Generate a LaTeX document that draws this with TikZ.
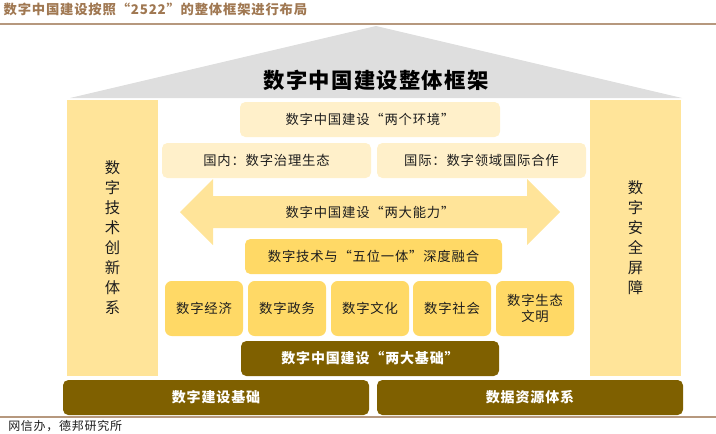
\documentclass[tikz,border=0pt]{standalone}
\usepackage{fontspec}
\setmainfont{Noto Sans CJK SC}[LetterSpace=6]
\usetikzlibrary{positioning}
\definecolor{CROOF}{RGB}{222,222,222}
\definecolor{CCOL}{RGB}{255,228,153}
\definecolor{CPALE}{RGB}{255,240,202}
\definecolor{CMID}{RGB}{255,217,102}
\definecolor{CDARK}{RGB}{127,96,0}
\definecolor{CHEAD}{RGB}{160,120,82}
\definecolor{CLINE}{RGB}{182,152,126}
\definecolor{CTXT}{RGB}{30,30,30}

\begin{document}
\begin{tikzpicture}[x=0.75pt,y=-0.75pt,
  txt/.style={font=\fontsize{10}{12}\selectfont,text=CTXT,align=center},
  wtxt/.style={font=\fontsize{10.5}{12}\selectfont\bfseries,text=white},
  coltxt/.style={font=\fontsize{11.5}{15}\selectfont,text=CTXT,align=center}]
  \useasboundingbox (0,0) rectangle (716,433);
  % — heading and rules
  \node[font=\fontsize{10}{11}\selectfont\bfseries,text=CHEAD,anchor=west] (head) at (-1,9) {数字中国建设按照“2522”的整体框架进行布局};
  \draw[CLINE,line width=1.1pt] (0,24) -- (716,24);
  \draw[CLINE,line width=1.1pt] (0,417) -- (716,417);
  \node[font=\fontsize{9}{10}\selectfont,text=CTXT,anchor=west,inner sep=0pt] (src) at (8,426) {网信办，德邦研究所};
  % — roof
  \fill[CROOF] (70,98) -- (376,26) -- (682,98) -- cycle;
  \node[font=\fontsize{16}{18}\selectfont\bfseries,text=black] (roof) at (376,80) {数字中国建设整体框架};
  % — side columns
  \fill[CCOL] (67,100) rectangle (158,376);
  \node[coltxt] (tech) at (112.5,238) {数\\字\\技\\术\\创\\新\\体\\系};
  \fill[CCOL] (590,100) rectangle (681,376);
  \node[coltxt] (safe) at (635.5,238) {数\\字\\安\\全\\屏\\障};
  % — two environments
  \fill[CPALE,rounded corners=4pt] (240,102) rectangle (500,137);
  \node[txt] (env) at (370,119.5) {数字中国建设“两个环境”};
  \fill[CPALE,rounded corners=4pt] (162,143) rectangle (371,178);
  \node[txt] (home) at (266.5,160.5) {国内：数字治理生态};
  \fill[CPALE,rounded corners=4pt] (377,143) rectangle (586,178);
  \node[txt] (intl) at (481.5,160.5) {国际：数字领域国际合作};
  % — two capabilities
  \fill[CCOL] (180,212) -- (213,179) -- (213,196) -- (527,196) -- (527,179)
    -- (560,212) -- (527,245) -- (527,228) -- (213,228) -- (213,245) -- cycle;
  \node[txt] (cap) at (370,212) {数字中国建设“两大能力”};
  % — five in one
  \fill[CMID,rounded corners=4pt] (245,239) rectangle (502,274);
  \node[txt] (fuse) at (373.5,256.5) {数字技术与“五位一体”深度融合};
  \fill[CMID,rounded corners=5pt] (165,281) rectangle (243,336);
  \node[txt] (econ) at (204,308.5) {数字经济};
  \fill[CMID,rounded corners=5pt] (248,281) rectangle (326,336);
  \node[txt] (gov) at (287,308.5) {数字政务};
  \fill[CMID,rounded corners=5pt] (331,281) rectangle (409,336);
  \node[txt] (cult) at (370,308.5) {数字文化};
  \fill[CMID,rounded corners=5pt] (413,281) rectangle (491,336);
  \node[txt] (soc) at (452,308.5) {数字社会};
  \fill[CMID,rounded corners=5pt] (496,281) rectangle (574,336);
  \node[txt] (eco) at (535,308.5) {数字生态\\文明};
  % — two foundations
  \fill[CDARK,rounded corners=4pt] (241,341) rectangle (499,376);
  \node[wtxt] (base) at (370,358.5) {数字中国建设“两大基础”};
  \fill[CDARK,rounded corners=4pt] (63,380) rectangle (369,415);
  \node[wtxt] (infra) at (216,397.5) {数字建设基础};
  \fill[CDARK,rounded corners=4pt] (377,380) rectangle (683,415);
  \node[wtxt] (data) at (530,397.5) {数据资源体系};
\end{tikzpicture}
\end{document}
